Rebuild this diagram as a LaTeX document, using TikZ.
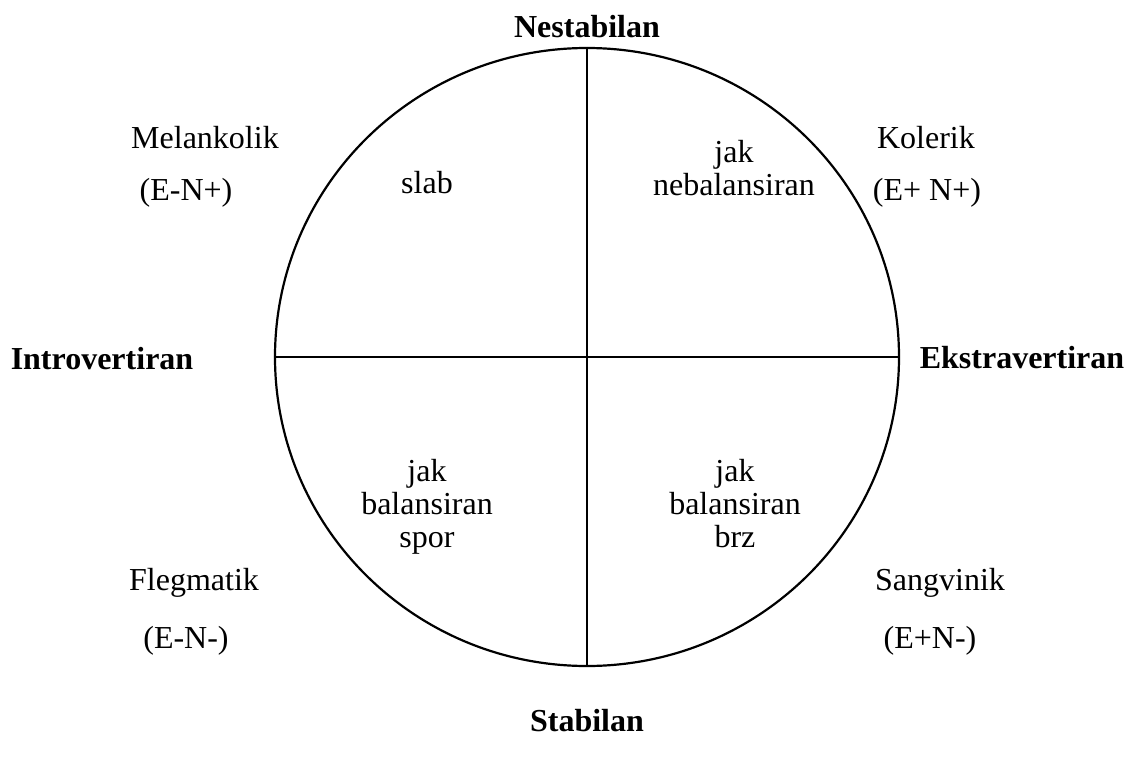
\documentclass[tikz,border=0pt]{standalone}
\usepackage{fontspec}
\setmainfont{Liberation Serif}
\usetikzlibrary{shapes.geometric}
\begin{document}
\begin{tikzpicture}[x=1pt,y=-1pt,
  lab/.style={font=\fontsize{32}{33}\selectfont, anchor=base, inner sep=0pt},
  hd/.style={font=\fontsize{32}{33}\selectfont\bfseries, anchor=base, inner sep=0pt},
  ln/.style={line width=2.2pt, black}]
\useasboundingbox (0,0) rectangle (1128,758);
\node[ellipse, draw, ln, inner sep=0pt, minimum width=624pt, minimum height=618pt] (c) at (587,357) {};
\draw[ln] (c.north) -- (c.south);
\draw[ln] (c.west) -- (c.east);
% axis labels
\node[hd] (nes) at (587,37) {Nestabilan};
\node[hd] (sta) at (587,731) {Stabilan};
\node[hd] (int) at (102,369) {Introvertiran};
\node[hd] (eks) at (1022,368) {Ekstravertiran};
% temperaments
\node[lab] (mel) at (205,148) {Melankolik};
\node[lab] (meln) at (186,200) {(E-N+)};
\node[lab] (kol) at (926,148) {Kolerik};
\node[lab] (koln) at (927,200) {(E+ N+)};
\node[lab] (fle) at (194,590) {Flegmatik};
\node[lab] (flen) at (186,648) {(E-N-)};
\node[lab] (san) at (940,590) {Sangvinik};
\node[lab] (sann) at (930,648) {(E+N-)};
% quadrant texts
\node[lab] (slab) at (427,193) {slab};
\node[lab] (q1a) at (734,162) {jak};
\node[lab] (q1b) at (734,195) {nebalansiran};
\node[lab] (q3a) at (427,481) {jak};
\node[lab] (q3b) at (427,514) {balansiran};
\node[lab] (q3c) at (427,547) {spor};
\node[lab] (q4a) at (735,481) {jak};
\node[lab] (q4b) at (735,514) {balansiran};
\node[lab] (q4c) at (735,547) {brz};
\end{tikzpicture}
\end{document}
